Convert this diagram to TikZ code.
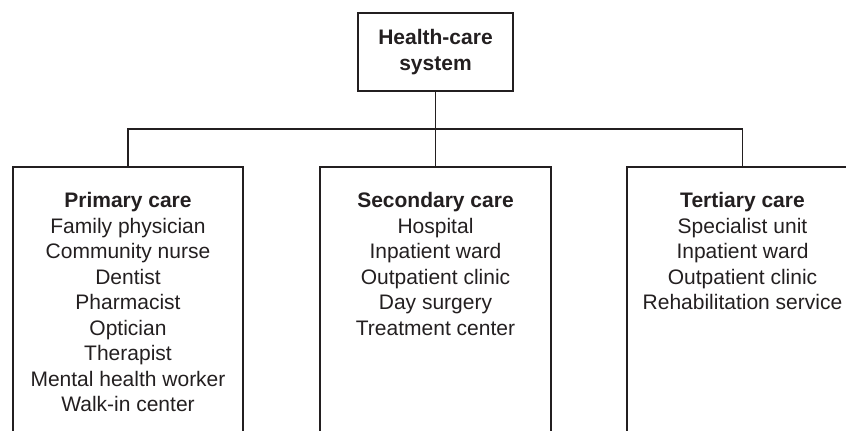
\documentclass[tikz,border=0pt]{standalone}
\usepackage{fontspec}
\setmainfont{Liberation Sans}
\definecolor{ink}{HTML}{231F20}
\begin{document}
\begin{tikzpicture}[x=1pt,y=-1pt,
  line width=1.3pt, draw=ink, text=ink,
  every node/.style={font=\fontsize{21}{25.5}\selectfont},
  rootbox/.style={draw, minimum width=155pt, minimum height=78pt,
    align=center, inner sep=0pt, font=\fontsize{21}{25.5}\selectfont\bfseries},
  listtext/.style={anchor=north, align=center, inner sep=0pt},
  frame/.style={line width=1.3pt}]
  \useasboundingbox (0,0) rectangle (846,431);
  \clip (0,0) rectangle (846,431);

  % root of the hierarchy
  \node[rootbox] (hcs) at (435.5,52) {Health-care\\system};

  % open-bottomed frames for the three levels of care
  \draw[frame] (13,440) -- (13,167) coordinate[pos=1] (pl) -- (243,167) -- (243,440);
  \draw[frame] (320,440) -- (320,167) -- (551,167) -- (551,440);
  \draw[frame] (627,440) -- (627,167) -- (857,167) -- (857,440);
  \coordinate (ptop) at (128,167);
  \coordinate (stop) at (435.5,167);
  \coordinate (ttop) at (742.5,167);
  \coordinate (bus) at (435.5,129);

  % connectors
  \draw (hcs.south) -- (bus);
  \draw (ptop) |- (bus) -| (ttop);
  \draw (bus) -- (stop);

  % contents
  \node[listtext] (ptxt) at (128,192) {\textbf{Primary care}\\Family physician\\Community nurse\\Dentist\\Pharmacist\\Optician\\Therapist\\Mental health worker\\Walk-in center};
  \node[listtext] (stxt) at (435.5,192) {\textbf{Secondary care}\\Hospital\\Inpatient ward\\Outpatient clinic\\Day surgery\\Treatment center};
  \node[listtext] (ttxt) at (742.5,192) {\textbf{Tertiary care}\\Specialist unit\\Inpatient ward\\Outpatient clinic\\Rehabilitation service};
\end{tikzpicture}
\end{document}
